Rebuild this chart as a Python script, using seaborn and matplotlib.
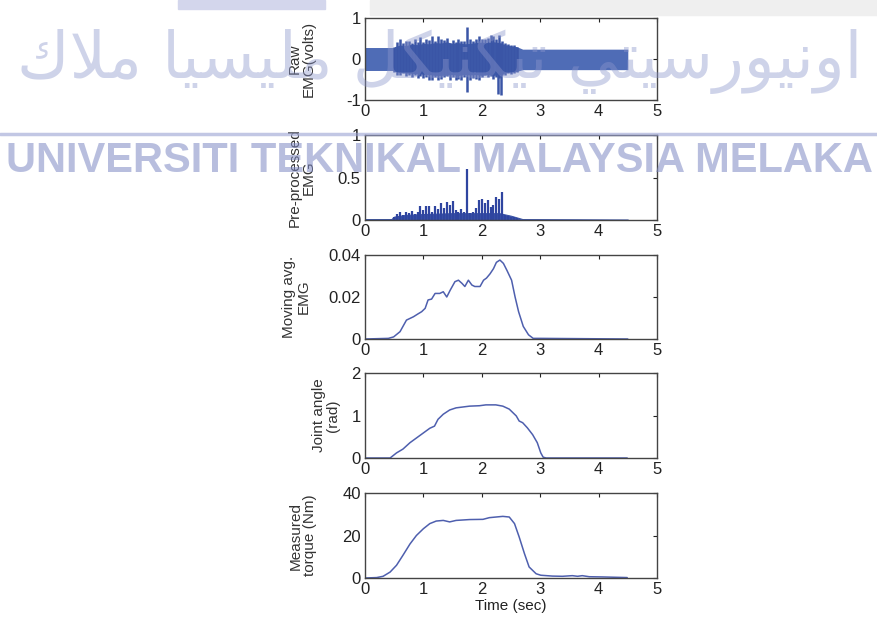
import numpy as np
import pandas as pd
import seaborn as sns
import matplotlib.pyplot as plt
from matplotlib.lines import Line2D
from matplotlib.patches import Rectangle

# ---- raw EMG: steady band, burst body and burst spikes (volts)
raw_base_t = [0.0, 0.5, 2.6, 2.7, 4.5]
raw_base_hi = [0.28, 0.28, 0.30, 0.24, 0.24]
raw_base_lo = [-0.28, -0.28, -0.30, -0.26, -0.26]
raw_burst_t = [0.5, 0.6, 0.7, 0.8, 0.9, 1.0, 1.1, 1.2, 1.3, 1.4, 1.5, 1.6, 1.7,
               1.8, 1.9, 2.0, 2.1, 2.2, 2.3, 2.4, 2.5, 2.6]
raw_burst_hi = [0.30, 0.34, 0.33, 0.36, 0.35, 0.38, 0.37, 0.40, 0.39, 0.42, 0.38, 0.40,
                0.37, 0.38, 0.40, 0.41, 0.40, 0.42, 0.40, 0.35, 0.32, 0.30]
raw_burst_lo = [-0.30, -0.33, -0.34, -0.35, -0.36, -0.37, -0.38, -0.40, -0.40, -0.39,
                -0.38, -0.40, -0.38, -0.39, -0.38, -0.40, -0.38, -0.40, -0.38, -0.34,
                -0.32, -0.30]
raw_spike_t = [0.50, 0.55, 0.60, 0.65, 0.70, 0.75, 0.80, 0.85, 0.90, 0.95,
               1.00, 1.05, 1.10, 1.15, 1.20, 1.25, 1.30, 1.35, 1.40, 1.45,
               1.50, 1.75, 1.55, 1.60, 1.65, 1.70, 1.80, 1.85, 1.90, 1.95,
               2.00, 2.27, 2.33, 2.05, 2.10, 2.15, 2.20, 2.25, 2.30, 2.35,
               2.40, 2.45, 2.50, 2.55, 2.60]
raw_spike_hi = [0.30, 0.42, 0.50, 0.38, 0.45, 0.44, 0.40, 0.48, 0.42, 0.54,
                0.42, 0.50, 0.46, 0.55, 0.44, 0.57, 0.48, 0.46, 0.52, 0.40,
                0.47, 0.79, 0.42, 0.50, 0.45, 0.43, 0.48, 0.45, 0.50, 0.55,
                0.48, 0.40, 0.38, 0.50, 0.52, 0.58, 0.55, 0.50, 0.58, 0.45,
                0.40, 0.36, 0.34, 0.33, 0.30]
raw_spike_lo = [-0.32, -0.40, -0.39, -0.35, -0.42, -0.38, -0.44, -0.40, -0.46, -0.42,
                -0.47, -0.45, -0.50, -0.51, -0.44, -0.50, -0.48, -0.45, -0.42, -0.50,
                -0.44, -0.80, -0.50, -0.48, -0.52, -0.45, -0.50, -0.46, -0.48, -0.50,
                -0.45, -0.86, -0.88, -0.40, -0.45, -0.42, -0.48, -0.44, -0.46, -0.40,
                -0.38, -0.35, -0.36, -0.33, -0.32]

# ---- pre-processed EMG
pre_base_t = [0.0, 0.45, 0.5, 0.7, 1.0, 1.5, 2.3, 2.5, 2.6, 2.7, 4.5]
pre_base_v = [0.01, 0.01, 0.04, 0.06, 0.07, 0.08, 0.08, 0.05, 0.03, 0.01, 0.005]
pre_spike_t = [0.50, 0.55, 0.60, 0.65, 0.70, 0.75, 0.80, 0.85, 0.90, 0.95,
               1.00, 1.05, 1.10, 1.15, 1.20, 1.25, 1.30, 1.35, 1.40, 1.45,
               1.50, 1.55, 1.60, 1.65, 1.70, 1.75, 1.80, 1.85, 1.90, 1.95,
               2.00, 2.05, 2.10, 2.15, 2.20, 2.25, 2.30, 2.35, 2.40, 2.45,
               2.50, 2.55, 2.60]
pre_spike_v = [0.04, 0.07, 0.09, 0.06, 0.10, 0.08, 0.11, 0.07, 0.09, 0.16,
               0.12, 0.17, 0.16, 0.10, 0.17, 0.13, 0.20, 0.14, 0.21, 0.18,
               0.22, 0.12, 0.10, 0.13, 0.09, 0.60, 0.08, 0.10, 0.14, 0.23,
               0.25, 0.20, 0.24, 0.15, 0.18, 0.27, 0.25, 0.33, 0.06, 0.05,
               0.04, 0.03, 0.02]

# ---- moving average EMG
mav_t = [0.0, 0.4, 0.49, 0.6, 0.71, 0.83, 0.91, 0.97, 1.03, 1.08, 1.14, 1.2, 1.28,
         1.34, 1.4, 1.46, 1.54, 1.6, 1.66, 1.71, 1.77, 1.83, 1.88, 1.97, 2.03, 2.08,
         2.14, 2.2, 2.25, 2.31, 2.37, 2.43, 2.51, 2.57, 2.63, 2.71, 2.8, 2.88, 3.0, 4.5]
mav_v = [0.0, 0.0003, 0.001, 0.0035, 0.009, 0.0106, 0.012, 0.013, 0.0146, 0.0186,
         0.019, 0.0217, 0.0217, 0.0225, 0.020, 0.0233, 0.0273, 0.028, 0.0265, 0.025,
         0.028, 0.0257, 0.025, 0.025, 0.028, 0.029, 0.031, 0.0335, 0.0365, 0.0376,
         0.036, 0.0327, 0.028, 0.020, 0.013, 0.006, 0.002, 0.0003, 0.0003, 0.0]

# ---- joint angle (rad)
ang_t = [0.0, 0.43, 0.54, 0.65, 0.77, 0.88, 1.0, 1.11, 1.19, 1.25, 1.34, 1.45, 1.56,
         1.79, 1.96, 2.07, 2.24, 2.36, 2.47, 2.59, 2.64, 2.7, 2.78, 2.87, 2.95, 3.01,
         3.05, 3.1, 4.49]
ang_v = [0.0, 0.0, 0.12, 0.21, 0.36, 0.47, 0.59, 0.70, 0.75, 0.91, 1.03, 1.13, 1.18,
         1.22, 1.23, 1.25, 1.25, 1.22, 1.15, 0.99, 0.87, 0.83, 0.71, 0.55, 0.36, 0.12,
         0.02, 0.0, 0.0]

# ---- measured torque (Nm)
trq_t = [0.0, 0.2, 0.31, 0.43, 0.54, 0.65, 0.77, 0.88, 1.0, 1.11, 1.22, 1.34, 1.45,
         1.56, 1.79, 2.02, 2.13, 2.36, 2.47, 2.56, 2.64, 2.73, 2.81, 2.93, 3.01, 3.21,
         3.38, 3.55, 3.64, 3.72, 3.84, 4.06, 4.49]
trq_v = [0.0, 0.2, 0.8, 2.8, 6.0, 10.7, 16.0, 20.0, 23.2, 25.6, 26.8, 27.1, 26.4,
         27.1, 27.5, 27.6, 28.4, 29.0, 28.7, 25.6, 19.3, 11.5, 5.2, 2.0, 1.3, 0.9,
         0.8, 1.1, 0.8, 1.1, 0.6, 0.5, 0.2]

ylabels = ["Raw\nEMG(volts)", "Pre-processed\nEMG", "Moving avg.\nEMG",
           "Joint angle\n(rad)", "Measured\ntorque (Nm)"]
yticks = [[-1, 0, 1], [0, 0.5, 1], [0, 0.02, 0.04], [0, 1, 2], [0, 20, 40]]
ytick_labels = [["-1", "0", "1"], ["0", "0.5", "1"], ["0", "0.02", "0.04"],
                ["0", "1", "2"], ["0", "20", "40"]]
xticks = [0, 1, 2, 3, 4, 5]

# watermark (Jawi, glyphs in visual order) and latin name
jawi = ("\ufed9\ufefc\ufee3 \ufe8e\ufef4\ufeb4\ufef4\ufee0\ufee3 "
        "\ufede\ufedc\ufef4\ufee8\ufedc\ufef4\ufe97 "
        "\ufef2\ufe98\ufef4\ufeb3\ufead\ufeee\ufef4\ufee7\ufeed\ufe8d")
latin = "UNIVERSITI TEKNIKAL MALAYSIA MELAKA"

sns.set_style("white")
plt.rcParams["font.family"] = ["Liberation Sans", "DejaVu Sans"]

W, H = 877, 618
fig = plt.figure(figsize=(W / 100, H / 100), dpi=100)


def box(left, top, right, bottom):
    return [left / W, 1 - bottom / H, (right - left) / W, (bottom - top) / H]


rows = [(18, 100), (135, 220), (255, 339), (373, 458), (493, 578)]
label_pads = [22, 16, 13, 8, 18]
axes = [fig.add_axes(box(365, t, 657, b)) for t, b in rows]

line_col = "#4e5fae"

# raw EMG
ax = axes[0]
ax.fill_between(raw_base_t, raw_base_lo, raw_base_hi, color="#4f6cb6", lw=0)
ax.fill_between(raw_burst_t, raw_burst_lo, raw_burst_hi, color="#4562b0", lw=0)
ax.vlines(raw_spike_t, raw_spike_lo, raw_spike_hi, color="#3a55a6", lw=1.8)
ax.set_ylim(-1, 1)

# pre-processed EMG
ax = axes[1]
ax.fill_between(pre_base_t, 0, pre_base_v, color="#3b53a6", lw=0.8)
ax.vlines(pre_spike_t, 0, pre_spike_v, color="#2f45a0", lw=1.6)
ax.set_ylim(0, 1)

series = [(mav_t, mav_v, (0, 0.04)), (ang_t, ang_v, (0, 2)), (trq_t, trq_v, (0, 40))]
for ax, (t, v, lim) in zip(axes[2:], series):
    df = pd.DataFrame({"t": t, "v": v})
    sns.lineplot(data=df, x="t", y="v", ax=ax, color=line_col, lw=1.1)
    ax.set_ylim(*lim)

for i, ax in enumerate(axes):
    ax.set_xlim(0, 5)
    ax.set_xticks(xticks)
    ax.set_xticklabels([str(x) for x in xticks])
    ax.set_yticks(yticks[i])
    ax.set_yticklabels(ytick_labels[i])
    ax.tick_params(direction="in", top=True, right=True, length=3, width=0.8,
                   labelsize=12, colors="#222222", pad=3)
    ax.set_ylabel(ylabels[i], fontsize=11, color="#333333", labelpad=label_pads[i],
                  linespacing=1.0)
    ax.set_xlabel("")
    for s in ax.spines.values():
        s.set_color("#444444")
        s.set_linewidth(1.0)

axes[-1].set_xlabel("Time (sec)", fontsize=11, color="#222222", labelpad=1)

# page decorations from the scan
fig.patches.append(Rectangle((370 / W, 1 - 15 / H), 507 / W, 15 / H,
                             transform=fig.transFigure, color="#efefef", zorder=0))
fig.patches.append(Rectangle((178 / W, 1 - 9 / H), 147 / W, 9 / H,
                             transform=fig.transFigure, color="#d3d6ec", zorder=0))
fig.add_artist(Line2D([0, 1], [1 - 134 / H, 1 - 134 / H], transform=fig.transFigure,
                      color="#9aa2d2", lw=2.5, alpha=0.6, zorder=5))
fig.text(440 / W, 1 - 62 / H, jawi, fontsize=46, color="#8c96cc", alpha=0.42,
         ha="center", va="center", family=["DejaVu Sans"], zorder=5)
fig.text(439 / W, 1 - 161 / H, latin, fontsize=30, color="#7f8ac4", alpha=0.55,
         ha="center", va="center", weight="bold",
         family=["Liberation Sans"], zorder=5)

fig.savefig("out.png", dpi=100)
